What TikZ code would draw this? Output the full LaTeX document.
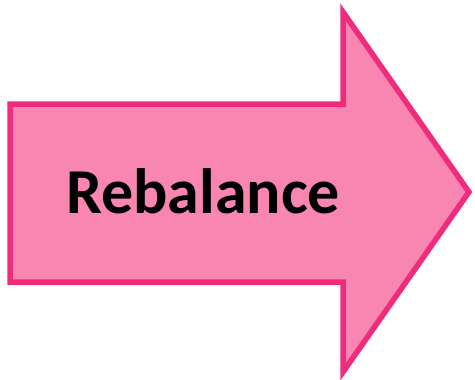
\documentclass[tikz,border=0pt]{standalone}
\usepackage{fontspec}
\setmainfont{Carlito}
\definecolor{arrowline}{HTML}{EE2C7B}
\definecolor{arrowfill}{HTML}{F886B0}
\tikzset{arrowshape/.style={draw=arrowline,fill=arrowfill,line width=5.5pt,line join=miter},
  lbl/.style={font=\bfseries\fontsize{64}{66}\selectfont,text=black}}
\begin{document}
\begin{tikzpicture}[x=1pt,y=-1pt]
\useasboundingbox (0,0) rectangle (475,380);
\draw[arrowshape] (10,104) -- (343,104) -- (343,12) -- (469,192) -- (343,372) -- (343,282) -- (10,282) -- cycle;
\node[lbl,inner sep=0pt] (t) at (203,191) {Rebalance};
\end{tikzpicture}
\end{document}
